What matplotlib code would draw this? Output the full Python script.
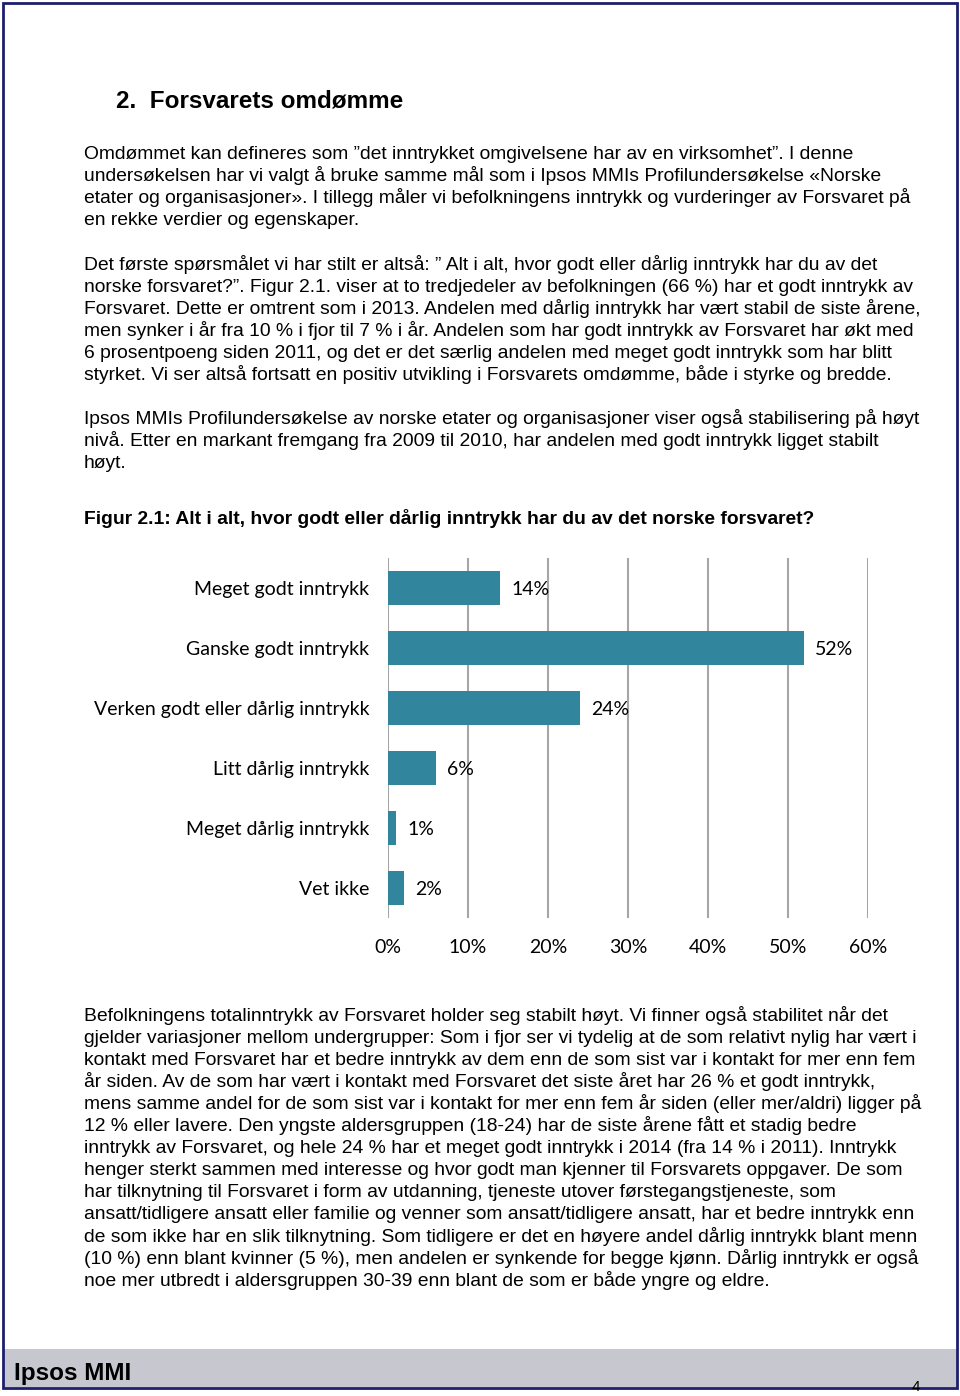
import matplotlib.pyplot as plt
from matplotlib.patches import Rectangle

W, H = 960, 1396

categories = ['Meget godt inntrykk', 'Ganske godt inntrykk', 'Verken godt eller dårlig inntrykk',
              'Litt dårlig inntrykk', 'Meget dårlig inntrykk', 'Vet ikke']
values = [14, 52, 24, 6, 1, 2]
xticks = [0, 10, 20, 30, 40, 50, 60]

heading = '2.  Forsvarets omdømme'
para1 = [
    'Omdømmet kan defineres som ”det inntrykket omgivelsene har av en virksomhet”. I denne',
    'undersøkelsen har vi valgt å bruke samme mål som i Ipsos MMIs Profilundersøkelse «Norske',
    'etater og organisasjoner». I tillegg måler vi befolkningens inntrykk og vurderinger av Forsvaret på',
    'en rekke verdier og egenskaper.',
]
para2 = [
    'Det første spørsmålet vi har stilt er altså: ” Alt i alt, hvor godt eller dårlig inntrykk har du av det',
    'norske forsvaret?”. Figur 2.1. viser at to tredjedeler av befolkningen (66 %) har et godt inntrykk av',
    'Forsvaret. Dette er omtrent som i 2013. Andelen med dårlig inntrykk har vært stabil de siste årene,',
    'men synker i år fra 10 % i fjor til 7 % i år. Andelen som har godt inntrykk av Forsvaret har økt med',
    '6 prosentpoeng siden 2011, og det er det særlig andelen med meget godt inntrykk som har blitt',
    'styrket. Vi ser altså fortsatt en positiv utvikling i Forsvarets omdømme, både i styrke og bredde.',
]
para3 = [
    'Ipsos MMIs Profilundersøkelse av norske etater og organisasjoner viser også stabilisering på høyt',
    'nivå. Etter en markant fremgang fra 2009 til 2010, har andelen med godt inntrykk ligget stabilt',
    'høyt.',
]
caption = 'Figur 2.1: Alt i alt, hvor godt eller dårlig inntrykk har du av det norske forsvaret?'
para4 = [
    'Befolkningens totalinntrykk av Forsvaret holder seg stabilt høyt. Vi finner også stabilitet når det',
    'gjelder variasjoner mellom undergrupper: Som i fjor ser vi tydelig at de som relativt nylig har vært i',
    'kontakt med Forsvaret har et bedre inntrykk av dem enn de som sist var i kontakt for mer enn fem',
    'år siden. Av de som har vært i kontakt med Forsvaret det siste året har 26 % et godt inntrykk,',
    'mens samme andel for de som sist var i kontakt for mer enn fem år siden (eller mer/aldri) ligger på',
    '12 % eller lavere. Den yngste aldersgruppen (18-24) har de siste årene fått et stadig bedre',
    'inntrykk av Forsvaret, og hele 24 % har et meget godt inntrykk i 2014 (fra 14 % i 2011). Inntrykk',
    'henger sterkt sammen med interesse og hvor godt man kjenner til Forsvarets oppgaver. De som',
    'har tilknytning til Forsvaret i form av utdanning, tjeneste utover førstegangstjeneste, som',
    'ansatt/tidligere ansatt eller familie og venner som ansatt/tidligere ansatt, har et bedre inntrykk enn',
    'de som ikke har en slik tilknytning. Som tidligere er det en høyere andel dårlig inntrykk blant menn',
    '(10 %) enn blant kvinner (5 %), men andelen er synkende for begge kjønn. Dårlig inntrykk er også',
    'noe mer utbredt i aldersgruppen 30-39 enn blant de som er både yngre og eldre.',
]

body_font = ['Liberation Sans', 'DejaVu Sans']
chart_font = ['Lato', 'DejaVu Sans']
BODY_SIZE = 13.9
LINE = 22.05

fig = plt.figure(figsize=(W / 100, H / 100), dpi=100)


def fx(px):
    return px / W


def fy(py):
    return 1 - py / H


def put_lines(lines, x0, y0, **kw):
    for i, s in enumerate(lines):
        fig.text(fx(x0), fy(y0 + i * LINE), s, ha='left', va='baseline',
                 family=body_font, fontsize=BODY_SIZE, color='black', **kw)


# page frame and grey footer band
fig.patches.append(Rectangle((fx(3), fy(1387)), fx(954), 38 / H, transform=fig.transFigure,
                             facecolor='#C7C7CF', edgecolor='none', zorder=0))
fig.patches.append(Rectangle((fx(3), fy(1388)), fx(954), 1385 / H, transform=fig.transFigure,
                             facecolor='none', edgecolor='#1E1E6E', linewidth=2, zorder=1))

fig.text(fx(116), fy(108), heading, ha='left', va='baseline', family=body_font,
         fontsize=17.5, fontweight='bold')
put_lines(para1, 84, 159)
put_lines(para2, 84, 270)
put_lines(para3, 84, 424)
put_lines([caption], 84, 524, fontweight='bold')
put_lines(para4, 84, 1021)

fig.text(fx(14), fy(1380), 'Ipsos MMI', ha='left', va='baseline', family=body_font,
         fontsize=17.5, fontweight='bold')
fig.text(fx(916), fy(1391), '4', ha='center', va='baseline', family=body_font, fontsize=11)

# bar chart
ax = fig.add_axes([fx(388), fy(918), fx(480), 360 / H])
ypos = list(range(len(categories)))
ax.barh(ypos, values, height=0.57, color='#31859C', zorder=3)
ax.set_ylim(len(categories) - 0.5, -0.5)
ax.set_xlim(0, 60)
ax.set_xticks(xticks)
ax.set_xticklabels([f'{t}%' for t in xticks], family=chart_font, fontsize=14)
ax.set_yticks(ypos)
ax.set_yticklabels(categories, family=chart_font, fontsize=14)
ax.tick_params(length=0)
ax.tick_params(axis='y', pad=13.5)
ax.tick_params(axis='x', pad=15)
ax.grid(axis='x', color='#A6A6A6', linewidth=1.5, zorder=0)
for s in ax.spines.values():
    s.set_visible(False)
for y, v in zip(ypos, values):
    ax.text(v + 1.4, y + 0.03, f'{v}%', va='center', ha='left', family=chart_font, fontsize=14)

fig.savefig('out.png', dpi=100)
